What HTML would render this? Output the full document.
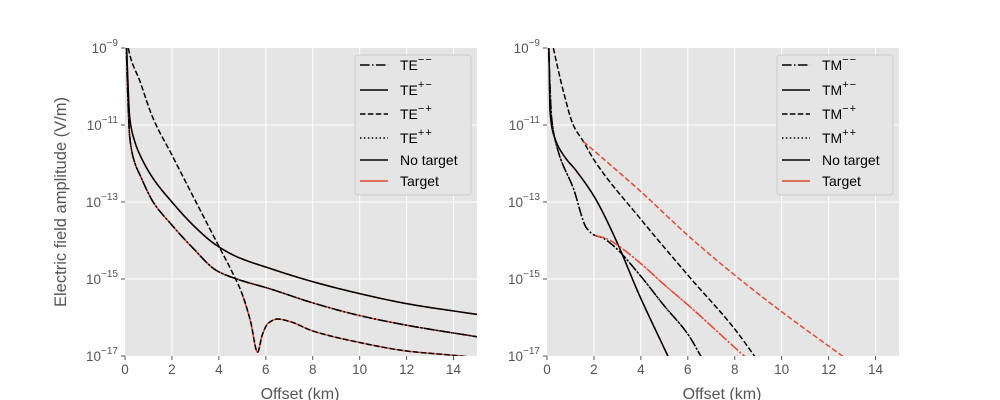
<!DOCTYPE html>
<html><head><meta charset="utf-8"><style>
html,body{margin:0;padding:0;background:#fff;}
svg{display:block;font-family:"Liberation Sans","DejaVu Sans",sans-serif;}
.tick{font-size:13.5px;fill:#555;}
.leg{font-size:14px;fill:#000;}
</style></head><body>
<svg id="s" width="1000" height="400" xmlns="http://www.w3.org/2000/svg">
<defs>
<clipPath id="c1"><rect x="125" y="48" width="352" height="308"/></clipPath>
<clipPath id="c2"><rect x="547" y="48" width="352" height="308"/></clipPath>
</defs>
<rect x="125" y="48" width="352" height="308" fill="#e5e5e5"/>
<rect x="547" y="48" width="352" height="308" fill="#e5e5e5"/>
<g id="grid" stroke="#fff" stroke-width="1"></g>
<g id="ticks"></g>
<g id="l1" clip-path="url(#c1)" fill="none" stroke-width="1.5"></g>
<g id="l2" clip-path="url(#c2)" fill="none" stroke-width="1.5"></g>
<text x="300" y="399" text-anchor="middle" font-size="16" fill="#555">Offset (km)</text>
<text x="722" y="399" text-anchor="middle" font-size="16" fill="#555">Offset (km)</text>
<text transform="translate(66,202) rotate(-90)" text-anchor="middle" font-size="16.5" fill="#555">Electric field amplitude (V/m)</text>
<g id="leg"></g>
</svg>
<script>
var NS="http://www.w3.org/2000/svg";
function el(t,a,p,txt){var e=document.createElementNS(NS,t);for(var k in a)e.setAttribute(k,a[k]);if(txt!==undefined)e.textContent=txt;document.getElementById(p).appendChild(e);return e;}
var X0=[125,547],W=352,Y0=48,H=308;
function px(i,x){return X0[i]+x/15*W;}
function py(l){return Y0+(-9-l)/8*H;}
for(var i=0;i<2;i++){
 for(var k=0;k<=14;k+=2){var x=px(i,k);if(k>0)el('line',{x1:x,x2:x,y1:Y0,y2:Y0+H},'grid');
  el('line',{x1:x,x2:x,y1:Y0+H,y2:Y0+H+4,stroke:'#555'},'ticks');
  el('text',{x:x,y:Y0+H+18,'text-anchor':'middle','class':'tick'},'ticks',''+k);}
 for(var e=-9;e>=-17;e-=2){var y=py(e);if(e!=-9&&e!=-17)el('line',{x1:X0[i],x2:X0[i]+W,y1:y,y2:y},'grid');
  el('line',{x1:X0[i]-4,x2:X0[i],y1:y,y2:y,stroke:'#555'},'ticks');
  var t=el('text',{x:X0[i]-7,y:y+5,'text-anchor':'end','class':'tick'},'ticks');
  t.appendChild(document.createTextNode('10'));
  var ts=document.createElementNS(NS,'tspan');ts.setAttribute('dy','-7');ts.setAttribute('font-size','10');ts.textContent='\u2212'+(-e);t.appendChild(ts);}
}
var DS={solid:'',dash:'5.5,2.4',dd:'9.6,2.4,1.5,2.4',dot:'1.5,2.4'};
function smooth(p){
 var n=p.length,d=[],m=[];
 for(var j=0;j<n-1;j++)d.push((p[j+1][1]-p[j][1])/(p[j+1][0]-p[j][0]));
 m[0]=d[0];m[n-1]=d[n-2];
 for(var j=1;j<n-1;j++){ if(d[j-1]*d[j]<=0)m[j]=0; else {var h0=p[j][0]-p[j-1][0],h1=p[j+1][0]-p[j][0];var w1=2*h1+h0,w2=h1+2*h0;m[j]=(w1+w2)/(w1/d[j-1]+w2/d[j]);}}
 var out=[];
 for(var j=0;j<n-1;j++){var h=p[j+1][0]-p[j][0];
  for(var s=0;s<20;s++){var t=s/20,t2=t*t,t3=t2*t;
   var y=(2*t3-3*t2+1)*p[j][1]+(t3-2*t2+t)*h*m[j]+(-2*t3+3*t2)*p[j+1][1]+(t3-t2)*h*m[j+1];
   out.push([p[j][0]+t*h,y]);}}
 out.push(p[n-1]);return out;}
function line(i,pts,col,st){pts=smooth(pts);var d='';pts.forEach(function(p,j){d+=(j?'L':'M')+px(i,p[0]).toFixed(2)+','+py(p[1]).toFixed(2);});
 var a={d:d,stroke:col};if(DS[st])a['stroke-dasharray']=DS[st];el('path',a,i?'l2':'l1');}
var R='#e24a33',K='#000';
// left
var sol=[[0.05,-8.6],[0.1,-9.5],[0.2,-10.8],[0.4,-11.4],[0.64,-11.78],[1.2,-12.39],[2,-13],[2.9,-13.6],[3.84,-14.1],[4.76,-14.42],[6.15,-14.72],[8,-15.07],[10,-15.38],[12,-15.64],[15,-15.92]];
var dd=[[0.05,-8.8],[0.09,-9.7],[0.2,-11.3],[0.4,-11.95],[0.64,-12.3],[1.2,-13],[2,-13.6],[2.9,-14.2],[3.9,-14.78],[4.76,-15.0],[6.15,-15.25],[8,-15.62],[10,-15.95],[12,-16.2],[15,-16.5]];
var dsh=[[0.1,-8.8],[0.14,-9],[0.64,-9.87],[1.2,-10.83],[2,-11.78],[3,-12.97],[4,-14.15],[4.6,-14.86],[5.0,-15.4],[5.35,-16.1],[5.65,-16.9],[5.85,-16.45],[6.1,-16.15],[6.5,-16.04],[7,-16.1],[8,-16.35],[10,-16.65],[12,-16.87],[14.3,-17],[15,-17.05]];
line(0,sol,R,'solid');line(0,dd,R,'solid');line(0,dsh.slice(8),R,'solid');
line(0,sol,K,'solid');line(0,dd,K,'dd');line(0,dd,K,'dot');line(0,dsh,K,'dash');
// right
var msol=[[0.05,-8.5],[0.08,-9],[0.13,-10.65],[0.34,-11.35],[0.7,-11.78],[1.26,-12.2],[2.05,-12.9],[2.97,-14.03],[3.9,-15.37],[5.15,-17]];
var mdd=[[0.05,-8.7],[0.08,-9.2],[0.2,-10.83],[0.48,-11.69],[1.12,-12.64],[1.69,-13.68],[2.05,-13.87],[2.33,-13.92],[2.8,-14.12],[3.96,-14.9],[5,-15.7],[6,-16.43],[6.6,-17.05]];
var mrdd=[[2.05,-13.87],[2.54,-13.95],[3,-14.12],[4,-14.6],[5,-15.15],[6,-15.67],[7,-16.22],[8,-16.78],[8.6,-17.1]];
var mdsh=[[0.2,-8.8],[0.27,-9],[0.7,-10.13],[1.12,-11],[1.55,-11.43],[2.05,-11.95],[3.96,-13.42],[6.06,-14.94],[8,-16.3],[8.9,-17.05]];
var mrdsh=[[1.55,-11.43],[2.54,-11.95],[4,-12.73],[6.06,-13.9],[8,-14.9],[10,-15.85],[12.7,-17.05]];
line(1,msol,R,'solid');line(1,msol,K,'solid');
line(1,mdd,K,'dd');line(1,mdd,K,'dot');
line(1,mrdd,R,'dd');line(1,mrdd,R,'dot');
line(1,mdsh,K,'dash');line(1,mrdsh,R,'dash');
// legends
function legend(x,p){
 el('rect',{x:x,y:55,width:116,height:140,rx:3,fill:'#e5e5e5',stroke:'#ccc','stroke-width':1},'leg');
 var rows=[['dd',p,'\u2212\u2212'],['solid',p,'+\u2212'],['dash',p,'\u2212+'],['dot',p,'++'],['solid','No target',''],['R','Target','']];
 var ys=[65,90,114,138,160,181];
 rows.forEach(function(r,j){var y=ys[j];var a={x1:x+5,x2:x+33,y1:y,y2:y,stroke:r[0]=='R'?R:K,'stroke-width':1.5};
  if(DS[r[0]])a['stroke-dasharray']=DS[r[0]];el('line',a,'leg');
  var t=el('text',{x:x+45,y:y+5,'class':'leg'},'leg');t.appendChild(document.createTextNode(r[1]));
  if(r[2]){var ts=document.createElementNS(NS,'tspan');ts.setAttribute('dy','-7');ts.setAttribute('font-size','11');ts.setAttribute('letter-spacing','1');ts.textContent=r[2];t.appendChild(ts);}});
}
legend(355,'TE');legend(777,'TM');
</script>
</body></html>
